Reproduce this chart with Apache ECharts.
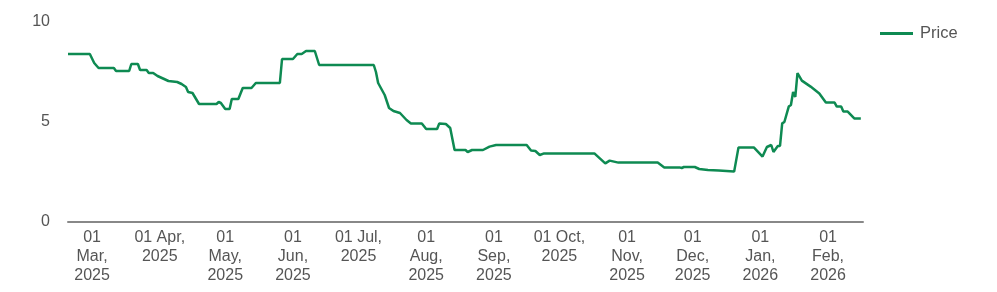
<!DOCTYPE html>
<html>
<head>
<meta charset="utf-8">
<script src="https://cdn.jsdelivr.net/npm/echarts@6/dist/echarts.min.js"></script>
<style>
  html, body { margin: 0; padding: 0; background: #fff; }
  #chart { width: 997px; height: 292px; }
</style>
</head>
<body>
<div id="chart"></div>
<script>
// price history
var dates = [
  '2025-02-18', '2025-02-28', '2025-03-02', '2025-03-04', '2025-03-11', '2025-03-12',
  '2025-03-18', '2025-03-19', '2025-03-22', '2025-03-23', '2025-03-26', '2025-03-27',
  '2025-03-29', '2025-03-31', '2025-04-02', '2025-04-05', '2025-04-09', '2025-04-11',
  '2025-04-13', '2025-04-14', '2025-04-16', '2025-04-19', '2025-04-27', '2025-04-28',
  '2025-04-29', '2025-05-01', '2025-05-03', '2025-05-04', '2025-05-07', '2025-05-09',
  '2025-05-13', '2025-05-15', '2025-05-26', '2025-05-27', '2025-06-01', '2025-06-03',
  '2025-06-05', '2025-06-07', '2025-06-11', '2025-06-13', '2025-07-08', '2025-07-09',
  '2025-07-10', '2025-07-13', '2025-07-15', '2025-07-17', '2025-07-20', '2025-07-23',
  '2025-07-25', '2025-07-30', '2025-08-01', '2025-08-06', '2025-08-07', '2025-08-10',
  '2025-08-12', '2025-08-14', '2025-08-19', '2025-08-20', '2025-08-22', '2025-08-27',
  '2025-08-30', '2025-09-02', '2025-09-16', '2025-09-18', '2025-09-20', '2025-09-22',
  '2025-09-24', '2025-10-17', '2025-10-22', '2025-10-24', '2025-10-28', '2025-11-15',
  '2025-11-18', '2025-11-25', '2025-11-26', '2025-11-27', '2025-12-02', '2025-12-04',
  '2025-12-08', '2025-12-13', '2025-12-20', '2025-12-22', '2025-12-29', '2026-01-02',
  '2026-01-04', '2026-01-06', '2026-01-07', '2026-01-09', '2026-01-10', '2026-01-11',
  '2026-01-12', '2026-01-14', '2026-01-15', '2026-01-16', '2026-01-17', '2026-01-18',
  '2026-01-20', '2026-01-24', '2026-01-28', '2026-01-31', '2026-02-04', '2026-02-05',
  '2026-02-07', '2026-02-08', '2026-02-10', '2026-02-13', '2026-02-16'
]
var prices = [
  8.4, 8.4, 7.95, 7.7, 7.7, 7.55,
  7.55, 7.9, 7.9, 7.6, 7.6, 7.45,
  7.45, 7.3, 7.2, 7.05, 7.0, 6.9,
  6.75, 6.5, 6.45, 5.9, 5.9, 6.0,
  5.95, 5.65, 5.65, 6.15, 6.15, 6.7,
  6.7, 6.95, 6.95, 8.15, 8.15, 8.4,
  8.4, 8.55, 8.55, 7.85, 7.85, 7.5,
  6.95, 6.35, 5.7, 5.55, 5.45, 5.1,
  4.93, 4.93, 4.65, 4.65, 4.93, 4.9,
  4.7, 3.6, 3.6, 3.5, 3.6, 3.6,
  3.77, 3.85, 3.85, 3.57, 3.55, 3.35,
  3.43, 3.43, 2.93, 3.07, 2.97, 2.97,
  2.73, 2.73, 2.7, 2.75, 2.75, 2.65,
  2.6, 2.57, 2.52, 3.73, 3.73, 3.27,
  3.75, 3.85, 3.5, 3.8, 3.8, 4.93,
  5.0, 5.77, 5.85, 6.5, 6.25, 7.45,
  7.07, 6.77, 6.43, 5.97, 5.97, 5.77,
  5.77, 5.52, 5.52, 5.18, 5.18
]
var seriesName = 'Price'
var yTicks = [0, 5, 10]
// months whose label fits on one line before the year
var shortMonths = ['Apr', 'Jul', 'Oct']
var monthNames = ['Jan', 'Feb', 'Mar', 'Apr', 'May', 'Jun', 'Jul', 'Aug', 'Sep', 'Oct', 'Nov', 'Dec']

var chart = echarts.init(document.getElementById('chart'))
var option = {
  animation: false,
  textStyle: { fontFamily: 'Liberation Sans, Arial, sans-serif' },
  grid: { left: 68, right: 134, top: 22, bottom: 70 },
  legend: {
    data: [seriesName],
    left: 880,
    top: 25,
    padding: 0,
    icon: 'rect',
    itemWidth: 33,
    itemHeight: 3,
    textStyle: { fontSize: 16.5, color: '#555', padding: [0, 0, 0, 2] }
  },
  xAxis: {
    type: 'time',
    min: '2025-02-18',
    max: '2026-02-17',
    splitNumber: 12,
    minInterval: 28 * 86400000,
    maxInterval: 31 * 86400000,
    axisLine: { lineStyle: { color: '#888', width: 2 } },
    axisTick: { show: false },
    splitLine: { show: false },
    axisLabel: {
      color: '#555',
      fontSize: 16,
      lineHeight: 19,
      margin: 6,
      formatter: function (val) {
        var d = new Date(val)
        if (d.getDate() !== 1) return ''
        var m = monthNames[d.getMonth()]
        if (shortMonths.indexOf(m) >= 0) return '01 ' + m + ',\n' + d.getFullYear()
        return '01\n' + m + ',\n' + d.getFullYear()
      }
    }
  },
  yAxis: {
    type: 'value',
    min: yTicks[0],
    max: yTicks[yTicks.length - 1],
    interval: 5,
    axisLine: { show: false },
    axisTick: { show: false },
    splitLine: { show: false },
    axisLabel: { color: '#555', fontSize: 16, margin: 18 }
  },
  series: [
    {
      name: seriesName,
      type: 'line',
      data: dates.map(function (d, i) { return [d, prices[i]] }),
      symbol: 'none',
      lineStyle: { color: '#0e8a52', width: 2.5 },
      itemStyle: { color: '#0e8a52' }
    }
  ]
}
chart.setOption(option)
</script>
</body>
</html>
